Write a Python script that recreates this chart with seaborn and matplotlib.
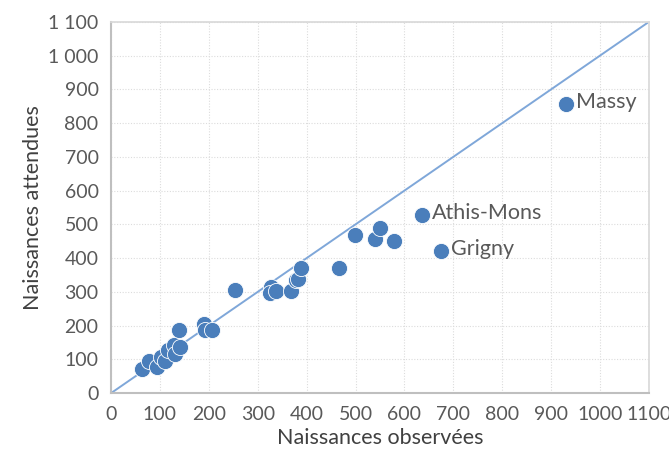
import numpy as np
import pandas as pd
import matplotlib
matplotlib.use("Agg")
import matplotlib.pyplot as plt
import seaborn as sns

# données
observees = [64, 77, 93, 102, 110, 116, 129, 131, 141, 139, 191, 193, 206, 254,
             328, 326, 337, 369, 379, 382, 389, 466, 499, 540, 551, 579, 636, 675, 930]
attendues = [70, 96, 78, 108, 95, 128, 143, 116, 137, 188, 204, 188, 186, 305,
             314, 296, 304, 304, 334, 338, 372, 372, 468, 457, 490, 450, 528, 421, 856]
communes = {"Massy": (930, 856), "Athis-Mons": (636, 528), "Grigny": (675, 421)}

x_ticks = list(range(0, 1101, 100))
y_ticks = list(range(0, 1101, 100))
y_labels = ["0", "100", "200", "300", "400", "500", "600", "700", "800", "900", "1 000", "1 100"]

df = pd.DataFrame({"obs": observees, "att": attendues})

sns.set_theme(style="white")
plt.rcParams["font.family"] = ["Lato", "DejaVu Sans"]

fig = plt.figure(figsize=(6.69, 4.55), dpi=100)
ax = fig.add_axes([0.166, 0.136, 0.804, 0.816])

# diagonale y = x
ax.plot([0, 1100], [0, 1100], color="#7FA7D9", lw=1.4, zorder=2)

sns.scatterplot(data=df, x="obs", y="att", ax=ax, color="#4A7EBB", s=135,
                edgecolor="white", linewidth=0.6, zorder=3)

for nom, (x, y) in communes.items():
    ax.text(x + 20, y + 6, nom, fontsize=15.5, color="#595959", va="center", ha="left")

ax.set_xlim(0, 1100)
ax.set_ylim(0, 1100)
ax.set_xticks(x_ticks)
ax.set_yticks(y_ticks)
ax.set_yticklabels(y_labels)
ax.tick_params(axis="both", length=0, labelsize=14, labelcolor="#595959", pad=9)
ax.grid(True, color="#DCDCDC", linestyle=(0, (1, 1.5)), lw=0.8)
ax.set_axisbelow(True)

for side in ["top", "right"]:
    ax.spines[side].set_color("#D9D9D9")
for side in ["left", "bottom"]:
    ax.spines[side].set_color("#BFBFBF")
    ax.spines[side].set_linewidth(1.5)

ax.set_xlabel("Naissances observées", fontsize=15.5, color="#404040", labelpad=4)
ax.set_ylabel("Naissances attendues", fontsize=15.5, color="#404040", labelpad=4)

fig.savefig("out.png", dpi=100)
